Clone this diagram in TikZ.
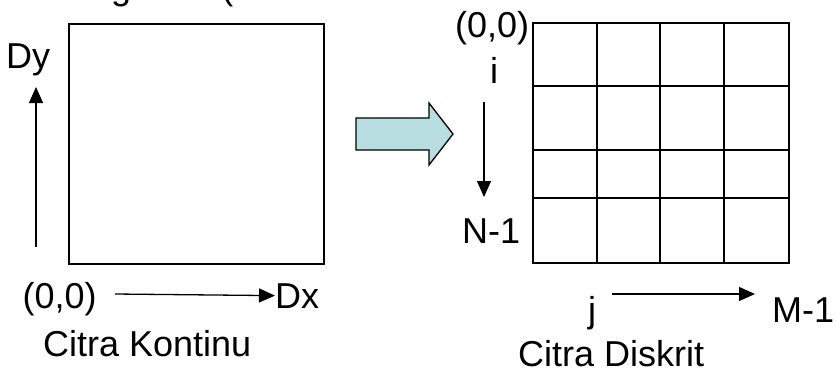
\documentclass[tikz,border=0pt]{standalone}
\usepackage{fontspec}
\setmainfont{Liberation Sans}
\usetikzlibrary{arrows.meta}
\definecolor{blockfill}{RGB}{184,222,226}
\tikzset{
  lbl/.style={inner sep=0pt, anchor=base west, font=\fontsize{36}{43}\selectfont},
  axis/.style={line width=1.3pt, -{Triangle[length=16pt, width=14pt]}},
  frame/.style={line width=2pt},
}
\begin{document}
\begin{tikzpicture}[x=1pt, y=-1pt]
\useasboundingbox (0,0) rectangle (836,376);
% cut-off title
\node[lbl] (title) at (111,-1) {gunan (};
% continuous image
\node[frame, draw, minimum width=255pt, minimum height=240pt, inner sep=0pt, anchor=north west] (cont) at (68,22.5) {};
\node[lbl] (dy) at (6,68) {Dy};
\coordinate (dyS) at (36,247);
\coordinate (dyE) at (36,87);
\draw[axis] (dyS) -- (dyE);
\node[lbl] (o1) at (22.5,308) {(0,0)};
\node[lbl] (dx) at (275,308) {Dx};
\coordinate (dxS) at (115,294);
\draw[axis] (dxS) -- (dx.west);
\node[lbl] (ck) at (43,356) {Citra Kontinu};
% block arrow
\draw[line width=1.3pt, fill=blockfill, line join=miter]
  (356,118) -- (429,118) -- (429,103) -- (453,134) -- (429,165) -- (429,150) -- (356,150) -- cycle;
% discrete image grid
\node[frame, draw, minimum width=256pt, minimum height=240pt, inner sep=0pt, anchor=north west] (grid) at (532,22) {};
\foreach \x in {597,660,724} \draw[frame] (\x,22) -- (\x,262);
\foreach \y in {86,150,198} \draw[frame] (532,\y) -- (788,\y);
\node[lbl] (o2) at (455,37.5) {(0,0)};
\node[lbl] (ii) at (490,83) {i};
\coordinate (iS) at (484,102);
\coordinate (iE) at (484,197);
\draw[axis] (iS) -- (iE);
\node[lbl] (n1) at (462,243) {N-1};
\node[lbl] (jj) at (588,322) {j};
\coordinate (jS) at (612,294);
\coordinate (jE) at (755,294);
\draw[axis] (jS) -- (jE);
\node[lbl] (m1) at (772,322) {M-1};
\node[lbl] (cd) at (518,366) {Citra Diskrit};
\end{tikzpicture}
\end{document}
